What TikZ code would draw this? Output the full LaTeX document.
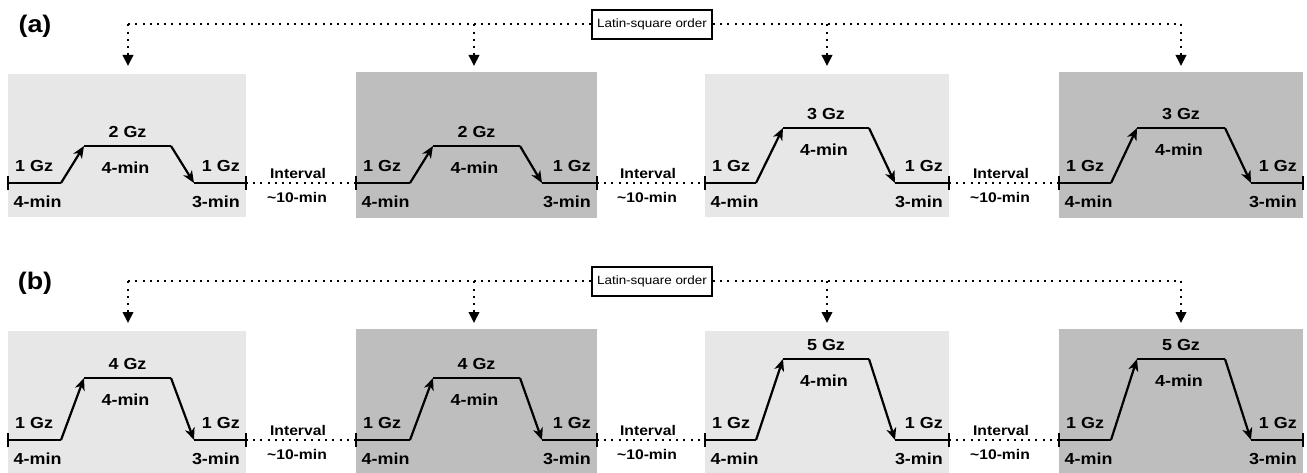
\documentclass[tikz,border=0pt]{standalone}
\usepackage{fontspec}
\setmainfont{Liberation Sans}[FakeStretch=1.12]
\usetikzlibrary{arrows.meta,calc}
\definecolor{lightbox}{RGB}{231,231,231}
\definecolor{darkbox}{RGB}{190,190,190}

% One row of four stimulation sessions
% #1 row tag, #2 vertical offset, #3/#4 ramp heights (columns 1-2 / 3-4),
% #5/#6 upper intensity (columns 1-2 / 3-4)
\newcommand\sessionrow[6]{%
  \foreach \c/\L/\R/\rs/\ts/\te/\fe/\shade/\top/\bot/\h/\lev in {
      1/8/246/61/84/171/194/lightbox/74/217/#3/#5,
      2/356/597/410/433/520/542/darkbox/72/218/#3/#5,
      3/705/949/756/783/869/895/lightbox/74/217/#4/#6,
      4/1059/1303/1111/1137/1225/1251/darkbox/72/218/#4/#6}
  {
    \pgfmathsetmacro\yb{#2+183}
    \pgfmathsetmacro\yt{\yb-\h}
    \fill[\shade] (\L,#2+\top) rectangle (\R,#2+\bot);
    \coordinate (#1in\c) at (\L,\yb);
    \coordinate (#1out\c) at (\R,\yb);
    \coordinate (#1up\c) at (\rs,\yb);
    \coordinate (#1hi\c) at (\ts,\yt);
    \coordinate (#1ho\c) at (\te,\yt);
    \coordinate (#1dn\c) at (\fe,\yb);
    \draw[trace] (#1in\c) -- (#1up\c);
    \draw[ramp] (#1up\c) -- (#1hi\c);
    \draw[trace] (#1hi\c) -- (#1ho\c);
    \draw[ramp] (#1ho\c) -- (#1dn\c);
    \draw[trace] (#1dn\c) -- (#1out\c);
    \draw[tickmark] ([yshift=-7pt]#1in\c) -- ([yshift=7pt]#1in\c);
    \draw[tickmark] ([yshift=-7pt]#1out\c) -- ([yshift=7pt]#1out\c);
    \node[lbl, anchor=west] (#1base\c) at ([xshift=7pt,yshift=17pt]#1in\c) {1 Gz};
    \node[lbl, anchor=west] (#1pre\c) at ([xshift=5.5pt,yshift=-19pt]#1in\c) {4-min};
    \node[lbl, anchor=east] (#1end\c) at ([xshift=-6pt,yshift=17pt]#1out\c) {1 Gz};
    \node[lbl, anchor=east] (#1post\c) at ([xshift=-6pt,yshift=-19pt]#1out\c) {3-min};
    \node[lbl] (#1peak\c) at ({(\ts+\te)/2},\yt-14) {\lev{} Gz};
    \node[lbl] (#1hold\c) at ({(\ts+\te)/2-2},\yt+22) {4-min};
  }
  % washout intervals between sessions
  \foreach \c/\n in {1/2,2/3,3/4}{
    \draw[dotline] (#1out\c) -- (#1in\n);
    \node[ivl] (#1gap\c) at ($(#1out\c)!0.5!(#1in\n)+(-3,-9.5)$) {Interval};
    \node[ivl] (#1wait\c) at ($(#1out\c)!0.5!(#1in\n)+(-4,14)$) {\textasciitilde10-min};
  }
  % counterbalancing of the session order
  \node[orderbox] (#1order) at (652,#2+24.5) {Latin-square order};
  \foreach \c/\x in {1/128,2/474,3/827,4/1181}{
    \coordinate (#1t\c) at (\x,#2+24.5);
    \coordinate (#1a\c) at (\x,#2+66);
    \draw[orderarrow] (#1t\c) -- (#1a\c);
  }
  \draw[dotline] (#1order.west) -- (#1t1);
  \draw[dotline] (#1order.east) -- (#1t4);
  \node[tag] (#1tag) at (35,#2+26.5) {(#1)};
}

\begin{document}
\begin{tikzpicture}[x=1pt,y=-1pt,
  lbl/.style={font=\bfseries\fontsize{16}{18}\selectfont, inner sep=0pt},
  ivl/.style={font=\bfseries\fontsize{14}{16}\selectfont, inner sep=0pt},
  tag/.style={font=\bfseries\fontsize{24}{26}\selectfont, inner sep=0pt},
  trace/.style={line width=2.2pt},
  ramp/.style={trace, -{Stealth[length=12pt,width=10pt,inset=3.5pt]}},
  tickmark/.style={line width=2pt},
  dotline/.style={line width=2pt, dash pattern=on 2pt off 5.2pt},
  orderarrow/.style={dotline, -{Triangle[width=10.5pt,length=11pt]}},
  orderbox/.style={draw, line width=2pt, fill=white, inner sep=0pt,
    minimum width=120pt, minimum height=29pt,
    font=\fontsize{12}{14}\selectfont}]
\useasboundingbox (0,0) rectangle (1307,473);
\sessionrow{a}{0}{37}{55}{2}{3}
\sessionrow{b}{257}{62}{81}{4}{5}
\end{tikzpicture}
\end{document}
